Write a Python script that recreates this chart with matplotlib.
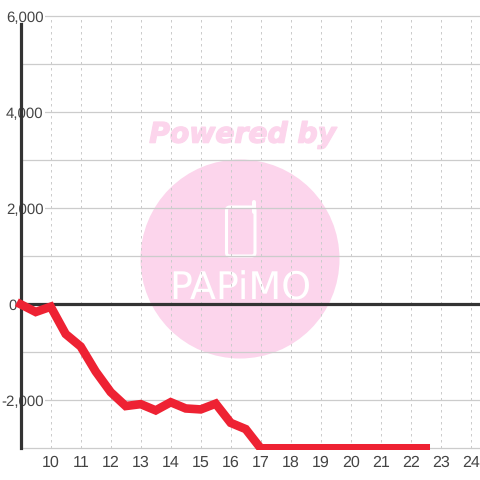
import matplotlib
matplotlib.use("Agg")
import matplotlib.pyplot as plt
from matplotlib.patches import Circle, FancyBboxPatch, Rectangle
from matplotlib.transforms import ScaledTranslation
import matplotlib.patheffects as pe

hours = [9, 9.5, 10, 10.5, 11, 11.5, 12, 12.5, 13, 13.5, 14, 14.5, 15, 15.5, 16, 16.5, 17, 17.5,
         18, 18.5, 19, 19.5, 20, 20.5, 21, 21.5, 22, 22.5]
values = [0, -160, -50, -620, -880, -1400, -1830, -2120, -2080, -2210, -2040, -2170, -2190, -2070,
          -2470, -2600, -3000, -3000, -3000, -3000, -3000, -3000, -3000, -3000, -3000, -3000, -3000, -3000]
x_ticks = list(range(10, 25))
y_ticks = [-3000, -2000, -1000, 0, 1000, 2000, 3000, 4000, 5000, 6000]
y_labels = ['', '-2,000', '', '0', '', '2,000', '', '4,000', '', '6,000']

plt.rcParams['font.family'] = ['Liberation Sans', 'DejaVu Sans']
plt.rcParams['text.hinting'] = 'no_hinting'
plt.rcParams['text.hinting_factor'] = 1
TXT = '#444444'
PINK = '#fcd5ec'
fig = plt.figure(figsize=(4.8, 4.8), dpi=100, facecolor='white')
ax = fig.add_axes([20.7 / 480, 31.7 / 480, 459.3 / 480, 432 / 480])
ax.set_xlim(9, 24.31)
ax.set_ylim(-3000, 6000)

# Watermark behind the grid
def fx(p):
    return p / 480
def fy(p):
    return 1 - p / 480
ax.add_patch(Circle((fx(240), fy(259)), 99.5 / 480, transform=fig.transFigure, fc=PINK, ec='none', zorder=0.1))
ax.text(fx(242), fy(135), 'Powered by', transform=fig.transFigure, ha='center', va='center',
        family='DejaVu Sans', weight='bold', style='italic', fontsize=20.3, color=PINK, zorder=0.1,
        path_effects=[pe.withStroke(linewidth=1.0, foreground=PINK)])
ax.add_patch(FancyBboxPatch((fx(226.5), fy(256)), 28.5 / 480, 49 / 480, boxstyle='round,pad=0,rounding_size=0.007',
                            transform=fig.transFigure, fc='none', ec='white', lw=2.2, zorder=0.2))
ax.plot([fx(254), fx(254)], [fy(212), fy(201.5)], transform=fig.transFigure, color='white', lw=2.9,
        solid_capstyle='round', zorder=0.2)
ax.text(fx(240), fy(288.5), 'PAPiMO', transform=fig.transFigure, ha='center', va='center',
        family=['Liberation Sans Narrow', 'DejaVu Sans'], fontsize=27, color='white', zorder=0.2)

ax.set_axisbelow(True)
ax.set_xticks(x_ticks)
ax.set_yticks(y_ticks)
ax.set_yticklabels(y_labels)
ax.grid(axis='y', color='#cccccc', lw=0.9)
ax.grid(axis='x', color='#cccccc', lw=0.72, ls=(0, (2.5, 3.5)))
for line in ax.get_ygridlines():
    line.set_clip_on(False)
ax.tick_params(axis='x', length=0, pad=5, labelsize=11.3, labelcolor=TXT)
ax.tick_params(axis='y', length=0, pad=-16.4, labelsize=10.8, labelcolor=TXT)
for s in ['top', 'right', 'bottom']:
    ax.spines[s].set_visible(False)
ax.spines['left'].set_linewidth(2.3)
ax.spines['left'].set_color('#333333')
ax.spines['left'].set_zorder(1)
ax.spines['left'].set_bounds(-3000, 5830)
ax.axhline(0, color='#333333', lw=2.3, zorder=1.5)
red, = ax.plot(hours, values, color='#ee2233', lw=6.2, solid_joinstyle='miter', solid_capstyle='projecting',
               zorder=2, clip_on=True)
red.set_clip_path(Rectangle((0, fy(450)), 1, 1, transform=fig.transFigure))

for tick, lab in zip(ax.yaxis.get_major_ticks(), y_labels):
    tick.label1.set_bbox(dict(fc='white', ec='none', pad=1))
    tick.label1.set_zorder(5)
    if lab == '0':
        tick.label1.set_bbox(None)
        tick.label1.set_transform(tick.label1.get_transform() + ScaledTranslation(-27 / 100, 0, fig.dpi_scale_trans))

fig.savefig('out.png', dpi=100)
